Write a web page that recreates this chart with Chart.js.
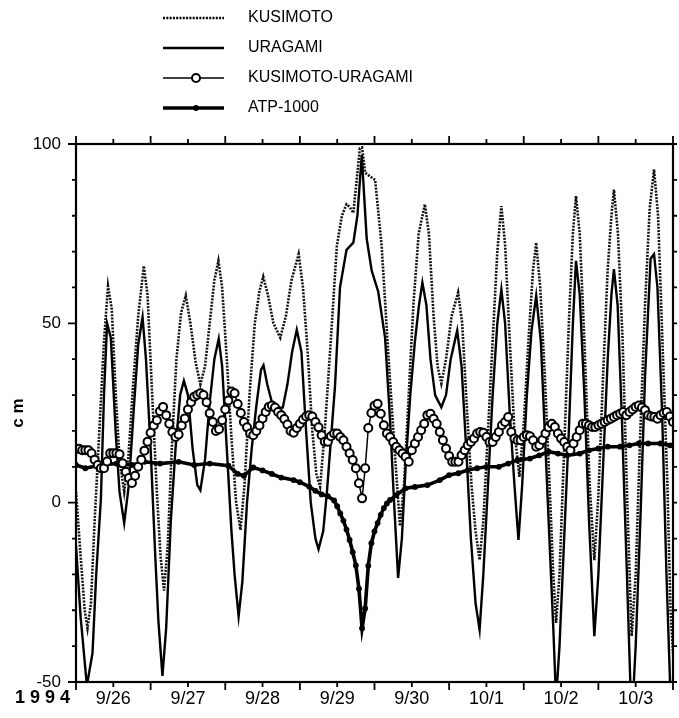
<!DOCTYPE html>
<html>
<head>
<meta charset="utf-8">
<script src="https://cdn.jsdelivr.net/npm/chart.js@4/dist/chart.umd.min.js"></script>
<style>
  body { margin: 0; background: #fff; }
  canvas { display: block; }
</style>
</head>
<body>
<canvas id="chartMarea" width="679" height="718"></canvas>
<script>
// hours are counted from 9/26 00:00, 1994
var dayLabels = ['9/26', '9/27', '9/28', '9/29', '9/30', '10/1', '10/2', '10/3'];
var seriesNames = ['KUSIMOTO', 'URAGAMI', 'KUSIMOTO-URAGAMI', 'ATP-1000'];

var kusHours = [0, 1.5, 2.8, 3.7, 4.8, 6, 7.5, 9, 10.3, 11.5, 12.8, 14, 15.5, 16.8, 18.3, 20, 21.8, 23, 24.5, 26, 27.2, 28.3, 29.5, 30.8, 32.3, 33.8, 35.3, 36.8, 38.5, 40, 41.5, 43, 44.5, 45.8, 47, 48.5, 50, 51.5, 52.9, 54.2, 55.8, 57.5, 59, 60.2, 61.7, 63.5, 65.7, 67.5, 69.3, 71.6, 73, 74.5, 76, 77.3, 78.5, 80, 81.7, 83.9, 85.5, 87, 88, 89.2, 91.3, 92, 93, 94.5, 96.2, 98.3, 100.4, 102.6, 104.2, 105.5, 107, 108.5, 110.2, 112.2, 113.5, 115, 116.3, 117.5, 119, 120.8, 122.9, 124.2, 125.8, 127.2, 128.5, 129.8, 131, 132.5, 134, 135.5, 136.8, 138, 139.5, 141, 142.6, 144, 145.5, 147, 148, 149.3, 150.8, 152.3, 153.5, 154.4, 155.5, 157, 158.5, 159.8, 160.8, 162, 163.5, 165.2, 166.7, 168, 169.5, 171, 172.2, 173, 174.3, 175.8, 177.3, 178.7, 180, 181.5, 183, 184.5, 185.9, 187.2, 188.8, 190.2, 191.2, 192];
var kusValues = [3, -15, -30, -35, -28, -5, 20, 45, 60.4, 54, 30, 12, 3, 12, 32, 52, 66, 58, 30, 3, -15, -24.5, -12, 15, 40, 53, 57.7, 50, 39, 33, 38, 50, 62, 67.4, 60, 40, 18, 0, -7.6, 5, 30, 50, 59, 63, 58, 50, 46, 52, 62, 69.3, 60, 42, 20, 8, 4.4, 20, 42, 71.6, 80, 83.2, 82.5, 80.8, 98.8, 99, 92, 91, 90, 71.6, 42, 13, -6.5, 5, 30, 55, 75, 83.2, 75, 52, 38, 33.2, 40, 52, 58.6, 50, 25, 5, -8, -16, -5, 20, 45, 70, 82.7, 72, 45, 20, 7.2, 22, 45, 65, 72.5, 60, 35, 5, -20, -33.5, -20, 15, 50, 75, 85.5, 75, 45, 5, -16, 2, 35, 65, 80, 87.3, 75, 45, 0, -37.2, -20, 20, 55, 82, 92.9, 80, 40, 5, -30, -42];

var uraHours = [0, 1.5, 3.5, 5.3, 6.5, 8, 9, 10, 11.2, 12.8, 14, 15.5, 17, 18.5, 20, 21.4, 22.5, 24, 25.5, 26.5, 27.8, 29, 30.5, 32, 33.5, 34.7, 36, 37.5, 39, 40, 41.5, 43, 44.5, 45.9, 47, 48.5, 50, 51, 52.3, 53.5, 55, 56.5, 58, 59.5, 60.3, 61.5, 63, 64.5, 66.5, 68, 69.5, 71, 72.5, 74, 75.5, 77, 78, 79.5, 80.7, 83.3, 84.9, 87, 89.2, 90.5, 91.9, 93.5, 95.1, 97.2, 99.4, 101, 102.3, 103.6, 104.8, 106, 107.5, 109, 110.3, 111.4, 112.7, 114, 115.5, 117.5, 119, 120.5, 122.6, 124, 125.5, 127, 128.5, 129.8, 131, 132.5, 134, 135.5, 136.8, 138, 139.5, 141, 142.3, 143.5, 145, 146.5, 148, 149.5, 151, 152.5, 153.5, 154.4, 155.5, 157, 158.5, 159.8, 160.8, 162, 163.5, 165, 166.7, 168, 169.5, 171, 172.2, 173, 174.2, 175.5, 177, 178.7, 180, 181.5, 183, 184.8, 185.9, 187, 188.5, 189.9, 191.2, 192];
var uraValues = [-12, -32, -51, -42, -20, 1, 30, 50, 46, 19, 3, -5.7, 5, 25, 44, 51.7, 40, 15, -15, -33, -48.3, -35, -5, 15, 30, 34, 30, 15, 5, 3.5, 12, 28, 40, 45.7, 38, 15, -8, -20, -31.7, -22, 0, 15, 27, 37, 38.3, 33, 28, 26.5, 26.5, 33, 42, 48.2, 42, 20, 0, -10, -13, -8, 3, 32.5, 60, 70.5, 72.5, 80, 96.9, 73.5, 64.7, 58.8, 46, 23, 0, -21, -10, 10, 30, 45, 55, 61.4, 55, 40, 30, 26.6, 30, 40, 48, 38, 15, -10, -28, -35.4, -20, 5, 30, 50, 59.5, 50, 25, 5, -10.4, 5, 30, 48, 57.7, 45, 15, -15, -35, -55, -40, -10, 20, 50, 67.4, 58, 30, -5, -37.2, -20, 10, 40, 58, 65.1, 55, 25, -15, -62, -40, -5, 35, 68, 69.3, 60, 25, -20, -54, -64];

// KUSIMOTO-URAGAMI, one value per hour (0..192)
var diffValues = [15, 15, 14.6, 14.6, 14.6, 13.8, 12, 10.5, 9.6, 9.6, 11.5, 13.8, 13.8, 13.8, 13.5, 11, 8.6, 6.9, 5.5, 7.5,
  10, 12, 14.5, 17, 19.5, 21.5, 23, 25.5, 26.7, 24.4, 22, 19.7, 18.3, 19, 21.5, 23.5, 26, 28, 29.5, 30,
  30.5, 30, 28, 24.9, 22.5, 20, 20.5, 23, 26, 28.5, 31, 30.5, 27.5, 25, 22.5, 21, 19.3, 18.8, 20, 21.5,
  23.5, 25.3, 26.7, 27.1, 26.5, 25.3, 24.4, 23.3, 21.8, 20, 19.5, 20.8, 22, 23.2, 24, 24.4, 24, 22.5, 21, 18.8,
  17, 17, 18.5, 19.3, 19.3, 18.3, 17.4, 15.6, 13.8, 11.9, 9.6, 5.4, 1.2, 9.6, 20.8, 25, 27, 27.6, 24.8, 21.6,
  19.3, 18.3, 16.9, 15.6, 14.6, 13.7, 12.8, 11.4, 14.6, 16.5, 18.3, 20.2, 22, 24.4, 24.8, 23.4, 22, 19.7, 17.4, 15.1,
  13, 11.4, 11.4, 11.4, 13.2, 14.6, 16, 16.9, 17.9, 19.3, 19.7, 19.5, 18.3, 16.9, 16.9, 18.3, 19.7, 21.6, 22.5, 23.9,
  19.7, 17.9, 17.4, 17.4, 18.3, 18.8, 18.5, 17.4, 15.6, 16, 17.5, 19.3, 21, 22, 21.1, 19.3, 17.9, 16.9, 15.6, 14.6,
  16.5, 18.3, 20.2, 22, 22, 21.6, 21.1, 21.1, 21.6, 22, 22.5, 23, 23.4, 23.9, 24.4, 24.8, 25.3, 24.4, 25.3, 26,
  26.7, 27.1, 26.5, 25.8, 24.4, 24, 23.9, 23.4, 24.4, 25, 25.3, 24, 22.5];

var atpHours = [0, 3, 8, 13, 18, 22, 27, 33, 38, 43, 49, 52, 54, 57, 60, 63, 66, 70, 72, 75, 77, 79, 81, 83, 84, 85, 86, 87, 88, 89, 90, 91, 92, 93, 94, 95, 96, 97, 98, 99, 100, 101, 103, 106, 109, 113, 117, 120, 123, 126, 129, 132, 136, 139, 142, 146, 149, 152, 155, 158, 162, 165, 168, 171, 175, 178, 181, 184, 188, 191, 192];
var atpValues = [10.5, 9.6, 10.5, 10.9, 10.5, 11.4, 10.9, 11.4, 10.5, 10.9, 10.3, 8, 7.5, 9.8, 9, 8, 7, 6.3, 5.7, 4.5, 3.3, 2.3, 1.8, 0.6, -1, -3, -5, -7.5, -10.4, -13.8, -17.5, -24, -35, -29.5, -17.6, -11.3, -8, -5.7, -3.4, -1.5, -0.2, 0.75, 2.1, 4, 4.4, 4.9, 6.3, 7.7, 8.2, 9.1, 9.6, 10, 10, 10.9, 11.9, 12.3, 13.2, 14.2, 13.7, 13.2, 13.7, 14.6, 15.1, 15.6, 15.6, 16, 16.5, 16.5, 16.5, 16, 16];

function pairs(xs, ys) {
  return ys.map(function (v, i) { return { x: xs ? xs[i] : i, y: v }; });
}

var legendRows = [18, 48, 78, 108];

// frame, tick marks on all four sides, the year and the legend
var framePlugin = {
  id: 'framePlugin',
  afterDraw: function (chart) {
    var ctx = chart.ctx, a = chart.chartArea, x = chart.scales.x, y = chart.scales.y;
    ctx.save();
    ctx.strokeStyle = '#000';
    ctx.lineWidth = 2.2;
    ctx.strokeRect(a.left, a.top, a.right - a.left, a.bottom - a.top);
    ctx.lineWidth = 1.8;
    ctx.beginPath();
    for (var v = -50; v <= 100; v += 10) {
      var py = y.getPixelForValue(v);
      var len = v % 50 === 0 ? 8 : 4;
      ctx.moveTo(a.left - len, py); ctx.lineTo(a.left, py);
      ctx.moveTo(a.right, py); ctx.lineTo(a.right + 4, py);
    }
    for (var h = 0; h <= 192; h += 12) {
      var px = x.getPixelForValue(h);
      var tl = h % 24 === 0 ? 8 : 5;
      ctx.moveTo(px, a.bottom); ctx.lineTo(px, a.bottom + tl);
      ctx.moveTo(px, a.top); ctx.lineTo(px, a.top - tl);
    }
    ctx.stroke();

    ctx.fillStyle = '#000';
    ctx.font = 'bold 18px "Liberation Sans", Arial, sans-serif';
    ctx.textAlign = 'left';
    ctx.textBaseline = 'middle';
    ctx.fillText('1 9 9 4', 15, 698);

    // legend
    chart.data.datasets.forEach(function (ds, i) {
      var ly = legendRows[i];
      ctx.save();
      ctx.strokeStyle = '#000';
      ctx.lineWidth = ds.borderWidth;
      ctx.setLineDash(ds.borderDash || []);
      ctx.beginPath();
      ctx.moveTo(163, ly); ctx.lineTo(224, ly);
      ctx.stroke();
      ctx.setLineDash([]);
      if (ds.pointRadius > 0) {
        ctx.beginPath();
        ctx.arc(196, ly, ds.pointRadius, 0, Math.PI * 2);
        ctx.fillStyle = ds.pointBackgroundColor;
        ctx.fill();
        if (ds.pointBorderWidth > 0) {
          ctx.lineWidth = ds.pointBorderWidth;
          ctx.stroke();
        }
      }
      ctx.restore();
      ctx.font = '16px "Liberation Sans", Arial, sans-serif';
      ctx.fillText(seriesNames[i], 248, ly);
    });
    ctx.restore();
  }
};

Chart.defaults.font.family = '"Liberation Sans", Arial, sans-serif';
Chart.defaults.color = '#000';

var ctx = document.getElementById('chartMarea').getContext('2d');
var chartMarea = new Chart(ctx, {
  type: 'line',
  data: {
    datasets: [{
      label: seriesNames[0],
      data: pairs(kusHours, kusValues),
      borderColor: '#111',
      borderWidth: 2.6,
      borderDash: [2, 1.3],
      pointRadius: 0,
      order: 3
    }, {
      label: seriesNames[1],
      data: pairs(uraHours, uraValues),
      borderColor: '#000',
      borderWidth: 2.4,
      pointRadius: 0,
      order: 2
    }, {
      label: seriesNames[2],
      data: pairs(null, diffValues),
      borderColor: '#000',
      borderWidth: 1.5,
      pointRadius: 4,
      pointBorderWidth: 2,
      pointBorderColor: '#000',
      pointBackgroundColor: '#fff',
      order: 0
    }, {
      label: seriesNames[3],
      data: pairs(atpHours, atpValues),
      borderColor: '#000',
      borderWidth: 3.6,
      pointRadius: 2.9,
      pointBorderWidth: 0,
      pointBackgroundColor: '#000',
      order: 1
    }]
  },
  options: {
    responsive: false,
    animation: false,
    events: [],
    layout: { padding: { top: 144, right: 5, left: 0, bottom: 0 } },
    plugins: {
      legend: { display: false },
      tooltip: { enabled: false }
    },
    scales: {
      x: {
        type: 'linear',
        min: 0,
        max: 192,
        grid: { display: false, drawTicks: false },
        border: { display: false },
        afterBuildTicks: function (s) {
          s.ticks = dayLabels.map(function (d, i) { return { value: 12 + 24 * i }; });
        },
        afterFit: function (s) { s.height = 36; },
        ticks: {
          autoSkip: false,
          maxRotation: 0,
          padding: 6,
          font: { size: 18 },
          callback: function (v, i) { return dayLabels[i]; }
        }
      },
      y: {
        min: -50,
        max: 100,
        grid: { display: false, drawTicks: false },
        border: { display: false },
        afterFit: function (s) { s.width = 76; },
        title: {
          display: true,
          text: 'c m',
          font: { size: 17, weight: 'bold' },
          padding: { top: 8, bottom: 0 }
        },
        ticks: {
          stepSize: 50,
          padding: 15,
          font: { size: 17 }
        }
      }
    }
  },
  plugins: [framePlugin]
});
</script>
</body>
</html>
